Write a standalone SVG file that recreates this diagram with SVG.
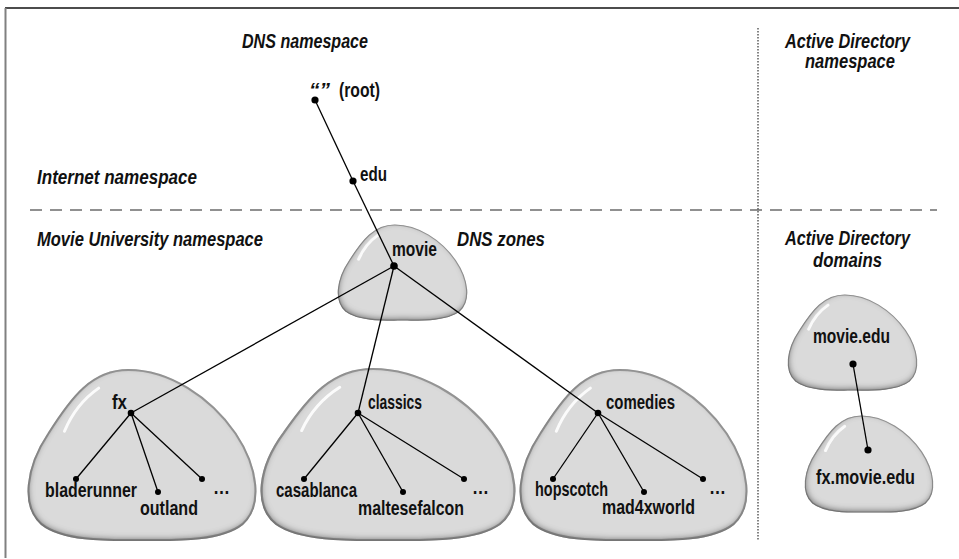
<svg xmlns="http://www.w3.org/2000/svg" width="959" height="559" viewBox="0 0 959 559">
<style>
.h{font-family:"Liberation Sans Narrow","Liberation Sans",Arial,sans-serif;font-weight:bold;font-style:italic;font-size:19.5px;fill:#111}
.l{font-family:"Liberation Sans Narrow","Liberation Sans",Arial,sans-serif;font-weight:bold;font-size:21px;fill:#111}
.c{stroke:#000;stroke-width:1.3;fill:none}
.shape{fill:#dadada;stroke:#9c9c9c;stroke-width:0.9;vector-effect:non-scaling-stroke}
.hl{fill:none;stroke:#fff;stroke-width:3;stroke-linecap:round;opacity:0.9;vector-effect:non-scaling-stroke}
.dot{fill:#000}
</style>
<defs>
<path id="blobPath" d="M44 0 C62 0 80 12 91 28 C101 43 103 60 94 68 C84 76 62 75 50 75 C38 75 16 76 6 68 C-3 60 -1 43 9 28 C19 12 28 0 44 0 Z"/>
<g id="blob">
<use href="#blobPath" class="shape"/>
<path class="hl" d="M16 27 Q21 15 31 8"/>
</g>
<filter id="bevel" x="-10%" y="-10%" width="120%" height="120%">
<feGaussianBlur in="SourceAlpha" stdDeviation="3" result="b"/>
<feOffset in="b" dx="0.5" dy="-2.5" result="o"/>
<feComposite in="SourceAlpha" in2="o" operator="out" result="edge"/>
<feFlood flood-color="#5a5a5a"/>
<feComposite in2="edge" operator="in" result="sh"/>
<feMerge><feMergeNode in="SourceGraphic"/><feMergeNode in="sh"/></feMerge>
</filter>
</defs>

<g id="frame">
<line x1="5" y1="8" x2="959" y2="8" stroke="#111" stroke-width="1.5"/>
<line x1="5.5" y1="8" x2="5.5" y2="558" stroke="#808080" stroke-width="2"/>
<line x1="30" y1="210" x2="937" y2="210" stroke="#222" stroke-width="1.2" stroke-dasharray="12 8"/>
<line x1="758" y1="28" x2="758" y2="540" stroke="#333" stroke-width="1.2" stroke-dasharray="1.5 1.5"/>
</g>

<g id="headings">
<text class="h" x="242" y="48" textLength="126" lengthAdjust="spacingAndGlyphs">DNS namespace</text>
<text class="h" x="37" y="184" textLength="160" lengthAdjust="spacingAndGlyphs">Internet namespace</text>
<text class="h" x="37" y="246" textLength="226" lengthAdjust="spacingAndGlyphs">Movie University namespace</text>
<text class="h" x="457" y="246" textLength="88" lengthAdjust="spacingAndGlyphs">DNS zones</text>
<text class="h" x="785" y="48" textLength="125" lengthAdjust="spacingAndGlyphs">Active Directory</text>
<text class="h" x="805" y="68" textLength="90" lengthAdjust="spacingAndGlyphs">namespace</text>
<text class="h" x="785" y="245" textLength="125" lengthAdjust="spacingAndGlyphs">Active Directory</text>
<text class="h" x="813" y="267" textLength="69" lengthAdjust="spacingAndGlyphs">domains</text>
</g>

<g id="zones">
<g id="zone-movie" filter="url(#bevel)"><use href="#blob" transform="translate(338 225) scale(1.29 1.267)"/></g>
<g id="zone-fx" filter="url(#bevel)"><use href="#blob" transform="translate(28 370) scale(2.28 2.267)"/></g>
<g id="zone-classics" filter="url(#bevel)"><use href="#blob" transform="translate(261 369) scale(2.54 2.28)"/></g>
<g id="zone-comedies" filter="url(#bevel)"><use href="#blob" transform="translate(520 370) scale(2.27 2.267)"/></g>
<g id="zone-movie-edu" filter="url(#bevel)"><use href="#blob" transform="translate(788 295) scale(1.29 1.267)"/></g>
<g id="zone-fx-movie-edu" filter="url(#bevel)"><use href="#blob" transform="translate(805 416) scale(1.28 1.28)"/></g>
</g>

<g id="connectors">
<line class="c" x1="315" y1="100" x2="353" y2="181"/>
<line class="c" x1="353" y1="181" x2="394" y2="266"/>
<line class="c" x1="394" y1="266" x2="131" y2="413"/>
<line class="c" x1="394" y1="266" x2="358" y2="413"/>
<line class="c" x1="394" y1="266" x2="598" y2="413"/>
<line class="c" x1="131" y1="413" x2="76" y2="479"/>
<line class="c" x1="131" y1="413" x2="158" y2="492"/>
<line class="c" x1="131" y1="413" x2="202" y2="479"/>
<line class="c" x1="358" y1="413" x2="304" y2="479"/>
<line class="c" x1="358" y1="413" x2="403" y2="492"/>
<line class="c" x1="358" y1="413" x2="464" y2="479"/>
<line class="c" x1="598" y1="413" x2="553" y2="479"/>
<line class="c" x1="598" y1="413" x2="644" y2="492"/>
<line class="c" x1="598" y1="413" x2="703" y2="479"/>
<line class="c" x1="853" y1="364" x2="868" y2="450"/>
</g>

<g id="node-root"><circle class="dot" cx="315" cy="100" r="3.6"/><text class="l" y="97"><tspan x="309" font-style="italic">“”</tspan><tspan x="339" textLength="41" lengthAdjust="spacingAndGlyphs">(root)</tspan></text></g>
<g id="node-edu"><circle class="dot" cx="353" cy="181" r="3.6"/><text class="l" x="360" y="181" textLength="27" lengthAdjust="spacingAndGlyphs">edu</text></g>
<g id="node-movie"><circle class="dot" cx="394" cy="266" r="3.8"/><text class="l" x="392" y="256" textLength="45" lengthAdjust="spacingAndGlyphs">movie</text></g>
<g id="node-fx"><circle class="dot" cx="131" cy="413" r="3.3"/><text class="l" x="112" y="409" textLength="15" lengthAdjust="spacingAndGlyphs">fx</text></g>
<g id="node-bladerunner"><circle class="dot" cx="76" cy="479" r="3"/><text class="l" x="45" y="497" textLength="92" lengthAdjust="spacingAndGlyphs">bladerunner</text></g>
<g id="node-outland"><circle class="dot" cx="158" cy="492" r="3"/><text class="l" x="140" y="515" textLength="58" lengthAdjust="spacingAndGlyphs">outland</text></g>
<g id="node-fx-more"><circle class="dot" cx="202" cy="479" r="3"/><text class="l" x="213" y="494" textLength="17" lengthAdjust="spacingAndGlyphs">…</text></g>
<g id="node-classics"><circle class="dot" cx="358" cy="413" r="3.3"/><text class="l" x="368" y="409" textLength="54" lengthAdjust="spacingAndGlyphs">classics</text></g>
<g id="node-casablanca"><circle class="dot" cx="304" cy="479" r="3"/><text class="l" x="276" y="497" textLength="81" lengthAdjust="spacingAndGlyphs">casablanca</text></g>
<g id="node-maltesefalcon"><circle class="dot" cx="403" cy="492" r="3"/><text class="l" x="358" y="515" textLength="106" lengthAdjust="spacingAndGlyphs">maltesefalcon</text></g>
<g id="node-classics-more"><circle class="dot" cx="464" cy="479" r="3"/><text class="l" x="472" y="494" textLength="17" lengthAdjust="spacingAndGlyphs">…</text></g>
<g id="node-comedies"><circle class="dot" cx="598" cy="413" r="3.3"/><text class="l" x="606" y="409" textLength="69" lengthAdjust="spacingAndGlyphs">comedies</text></g>
<g id="node-hopscotch"><circle class="dot" cx="553" cy="479" r="3"/><text class="l" x="535" y="496" textLength="73" lengthAdjust="spacingAndGlyphs">hopscotch</text></g>
<g id="node-mad4xworld"><circle class="dot" cx="644" cy="492" r="3"/><text class="l" x="602" y="514" textLength="93" lengthAdjust="spacingAndGlyphs">mad4xworld</text></g>
<g id="node-comedies-more"><circle class="dot" cx="703" cy="479" r="3"/><text class="l" x="709" y="494" textLength="17" lengthAdjust="spacingAndGlyphs">…</text></g>
<g id="node-movie-edu"><circle class="dot" cx="853" cy="364" r="3.6"/><text class="l" x="813" y="343" textLength="77" lengthAdjust="spacingAndGlyphs">movie.edu</text></g>
<g id="node-fx-movie-edu"><circle class="dot" cx="868" cy="450" r="3.6"/><text class="l" x="816" y="484" textLength="99" lengthAdjust="spacingAndGlyphs">fx.movie.edu</text></g>
</svg>
